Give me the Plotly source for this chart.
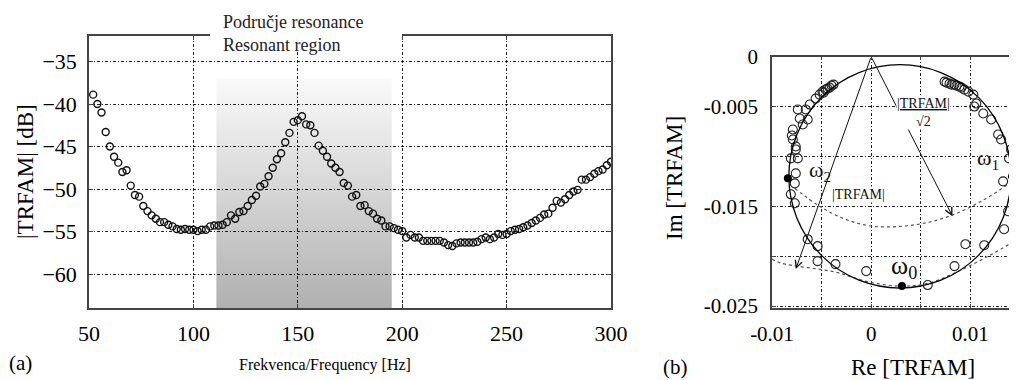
import plotly.graph_objects as go

# ---------------- data: left panel (|TRFAM| in dB vs frequency) ----------------
freq_hz = list(range(52, 301, 2))
trfam_db = [
    -38.9, -40.0, -41.0, -43.3, -45.0, -46.2, -46.9, -48.0, -47.8, -49.6,
    -50.7, -50.9, -52.0, -52.6, -53.1, -53.5, -53.9, -53.9, -54.2, -54.4,
    -54.7, -54.8, -54.7, -54.8, -54.8, -54.95, -54.8, -54.8, -54.4, -54.3,
    -54.3, -54.2, -53.9, -53.1, -53.5, -52.7, -52.6, -52.0, -51.3, -50.8,
    -49.7, -49.4, -48.5, -47.5, -46.5, -45.8, -44.5, -43.4, -42.1, -41.9,
    -41.45, -42.4, -42.5, -43.4, -44.9, -45.5, -46.2, -47.0, -47.5, -48.0,
    -49.3, -49.6, -50.9, -50.7, -52.0, -51.9, -52.6, -52.9, -53.5, -53.7,
    -54.4, -54.4, -54.6, -54.8, -54.95, -55.7, -55.4, -55.7, -55.7, -56.1,
    -56.1, -56.1, -56.1, -56.1, -56.3, -56.6, -56.7, -56.4, -56.3, -56.3,
    -56.3, -56.3, -56.2, -55.9, -55.7, -55.9, -55.7, -55.3, -55.4, -55.3,
    -54.95, -54.8, -54.7, -54.5, -54.3, -54.0, -53.7, -53.4, -53.0, -52.9,
    -52.2, -51.4, -51.6, -51.2, -50.7, -50.3, -50.1, -48.9, -48.9, -48.6,
    -48.2, -47.9, -47.7, -47.2, -46.8,
]
resonance_band_hz = [111, 195]
resonance_band_db = [-64, -37]
x_ticks_a = [50, 100, 150, 200, 250, 300]
y_ticks_a = [-35, -40, -45, -50, -55, -60]

# ---------------- data: right panel (Nyquist plot) ----------------
re_meas = [
    -0.0038, -0.0040, -0.0042, -0.0044, -0.0046, -0.0048, -0.0049, -0.0052,
    -0.0056, -0.0062, -0.0066, -0.0074, -0.0072, -0.0064, -0.0069, -0.0079,
    -0.0080, -0.0079, -0.0076, -0.0076, -0.0081, -0.0074, -0.0076, -0.0077,
    -0.0081, -0.0077, -0.0064, -0.0054, -0.0054, -0.0036, -0.0005, 0.0057,
    0.0084, 0.0095, 0.0114, 0.0134, 0.0138, 0.0133, 0.0139, 0.0141, 0.0131,
    0.0128, 0.0121, 0.0113, 0.0104, 0.0106, 0.0103, 0.0098, 0.0094, 0.0091,
    0.0089, 0.0086, 0.0084, 0.0081, 0.0079, 0.0076, 0.0074, 0.0150,
]
im_meas = [
    -0.0028, -0.0029, -0.0031, -0.0032, -0.0033, -0.0036, -0.0035, -0.0038,
    -0.0042, -0.0048, -0.0053, -0.0053, -0.0062, -0.0063, -0.0068, -0.0073,
    -0.0079, -0.0083, -0.0090, -0.0093, -0.0102, -0.0102, -0.0117, -0.0127,
    -0.0138, -0.0147, -0.0183, -0.0190, -0.0205, -0.0208, -0.0215, -0.0229,
    -0.0210, -0.0188, -0.0189, -0.0173, -0.0155, -0.0125, -0.0102, -0.0093,
    -0.0083, -0.0078, -0.0063, -0.0057, -0.0050, -0.0047, -0.0038, -0.0035,
    -0.0033, -0.0031, -0.0030, -0.0029, -0.0028, -0.0028, -0.0027, -0.0026,
    -0.0025, -0.0123,
]
omega_re = [-0.0084, 0.0142, 0.0031]
omega_im = [-0.0122, -0.0120, -0.0230]
omega_labels = ["ω<sub>2</sub>", "ω<sub>1</sub>", "ω<sub>0</sub>"]
circle_center = [0.0029, -0.0120]
circle_radius = 0.0112
half_power_arc_re = [-0.0077, -0.0052, -0.0026, 0.0001, 0.0031, 0.0058, 0.0084, 0.0111, 0.0138, 0.0150]
half_power_arc_im = [-0.0132, -0.0150, -0.0163, -0.0170, -0.0170, -0.0166, -0.0158, -0.0145, -0.0128, -0.0119]
full_arc_re = [-0.0100, -0.0091, -0.0036, -0.0002, 0.0031, 0.0058, 0.0084, 0.0118, 0.0148]
full_arc_im = [-0.0203, -0.0207, -0.0216, -0.0226, -0.0230, -0.0227, -0.0217, -0.0200, -0.0183]
arrow_origin = [0.0, 0.0]
arrow_full_tip = [-0.0076, -0.0213]
arrow_half_tip = [0.0082, -0.0160]
x_ticks_b = [-0.01, -0.005, 0, 0.005, 0.01]
x_ticklabels_b = ["-0.01", "", "0", "", "0.01"]
y_ticks_b = [0, -0.005, -0.01, -0.015, -0.02, -0.025]
y_ticklabels_b = ["0", "-0.005", "", "-0.015", "", "-0.025"]

# ---------------- layout helpers ----------------
# the page body has an 8px margin, so the figure is made 8px smaller and
# every paper position is given in window pixels and converted here
OFF = 8
W, H = 1017 - OFF, 380 - OFF
FONT = "Liberation Serif, Times New Roman, serif"


def px(xp):
    return (xp - OFF) / W


def py(yp):
    return 1 - (yp - OFF) / H


fig = go.Figure()

# resonance shading (gradient)
fig.add_trace(go.Scatter(
    x=[resonance_band_hz[0], resonance_band_hz[1], resonance_band_hz[1], resonance_band_hz[0], resonance_band_hz[0]],
    y=[resonance_band_db[0], resonance_band_db[0], resonance_band_db[1], resonance_band_db[1], resonance_band_db[0]],
    fill="toself", mode="lines", line=dict(width=0),
    fillgradient=dict(type="vertical",
                      colorscale=[[0, "rgba(0,0,0,0.31)"], [1, "rgba(0,0,0,0.02)"]]),
    hoverinfo="skip", showlegend=False, xaxis="x", yaxis="y",
))

fig.add_trace(go.Scatter(
    x=freq_hz, y=trfam_db, mode="markers",
    marker=dict(symbol="circle-open", size=7, color="#111", line=dict(width=1.4)),
    showlegend=False, xaxis="x", yaxis="y",
))

# right panel: dotted arcs
fig.add_trace(go.Scatter(
    x=half_power_arc_re, y=half_power_arc_im, mode="lines",
    line=dict(color="#555", width=1.2, dash="dot", shape="spline"),
    showlegend=False, xaxis="x2", yaxis="y2",
))
fig.add_trace(go.Scatter(
    x=full_arc_re, y=full_arc_im, mode="lines",
    line=dict(color="#555", width=1.2, dash="dot", shape="spline"),
    showlegend=False, xaxis="x2", yaxis="y2",
))
fig.add_trace(go.Scatter(
    x=re_meas, y=im_meas, mode="markers",
    marker=dict(symbol="circle-open", size=9, color="#222", line=dict(width=1.1)),
    showlegend=False, xaxis="x2", yaxis="y2",
))
fig.add_trace(go.Scatter(
    x=omega_re, y=omega_im, mode="markers",
    marker=dict(symbol="circle", size=8, color="black"),
    showlegend=False, xaxis="x2", yaxis="y2",
))

# fitted circle
fig.add_shape(type="circle", xref="x2", yref="y2",
              x0=circle_center[0] - circle_radius, x1=circle_center[0] + circle_radius,
              y0=circle_center[1] - circle_radius, y1=circle_center[1] + circle_radius,
              line=dict(color="black", width=1.3), layer="above")

# white patch hiding the top frame behind the resonance label
fig.add_shape(type="rect", xref="paper", yref="paper",
              x0=px(210), x1=px(402), y0=py(50), y1=py(OFF),
              fillcolor="white", line=dict(width=0), layer="above")

grid_dash = "3px,2px,1px,2px"
axis_common = dict(showline=True, linecolor="#444", linewidth=1.5, mirror="ticks",
                   ticks="inside", ticklen=4, tickcolor="#444",
                   showgrid=True, gridcolor="#222", gridwidth=1, griddash=grid_dash,
                   zeroline=False, automargin=False,
                   tickfont=dict(family=FONT, size=22, color="black"))

fig.update_layout(
    width=W, height=H, margin=dict(l=0, r=0, t=0, b=0, autoexpand=False),
    paper_bgcolor="white", plot_bgcolor="white",
    xaxis=dict(axis_common, domain=[px(89), px(611)], range=[50, 300],
               tickvals=x_ticks_a, anchor="y", ticklabelstandoff=5),
    yaxis=dict(axis_common, domain=[py(308), py(36)], range=[-64, -32],
               tickvals=y_ticks_a, anchor="x", ticklabelstandoff=6),
    xaxis2=dict(axis_common, domain=[px(772), px(1015)], range=[-0.01, 0.0145],
                tickvals=x_ticks_b, ticktext=x_ticklabels_b, anchor="y2",
                ticklabelstandoff=6,
                tickfont=dict(family=FONT, size=21, color="black")),
    yaxis2=dict(axis_common, domain=[py(308), py(56.7)], range=[-0.0252, 0],
                tickvals=y_ticks_b, ticktext=y_ticklabels_b, anchor="x2",
                ticklabelstandoff=8,
                tickfont=dict(family=FONT, size=21, color="black")),
    font=dict(family=FONT, color="black"),
)


def paper_text(text, x, y, size, angle=0, xanchor="center", color="black"):
    return dict(text=text, x=px(x), y=py(y), xref="paper", yref="paper",
                xanchor=xanchor, yanchor="middle", textangle=angle,
                showarrow=False, font=dict(size=size, color=color))


ann = [
    paper_text("Područje resonance", 221, 22, 18, xanchor="left", color="#222"),
    paper_text("Resonant region", 221, 45, 18, xanchor="left", color="#222"),
    paper_text("|TRFAM| [dB]", 25, 172, 23, angle=-90),
    paper_text("Frekvenca/Frequency [Hz]", 325, 365, 16),
    paper_text("(a)", 20, 363, 21),
    paper_text("Im [TRFAM]", 674, 178, 23, angle=-90),
    paper_text("Re [TRFAM]", 913, 367, 23),
    paper_text("(b)", 675, 367, 21),
]
# arrows
for tip in (arrow_full_tip, arrow_half_tip):
    ann.append(dict(x=tip[0], y=tip[1], ax=arrow_origin[0], ay=arrow_origin[1],
                    xref="x2", yref="y2", axref="x2", ayref="y2", text="",
                    showarrow=True, arrowhead=5, arrowsize=1.4, arrowwidth=1, arrowcolor="#111"))
# omega labels
omega_offsets = [(-0.0052, -0.0115, 22), (0.0118, -0.0103, 22), (0.0033, -0.0211, 26)]
for lab, (lx, ly, fs) in zip(omega_labels, omega_offsets):
    ann.append(dict(text=lab, x=lx, y=ly, xref="x2", yref="y2", showarrow=False,
                    xanchor="center", yanchor="middle", font=dict(size=fs, color="#111")))
ann.append(dict(text="|TRFAM|", x=-0.00125, y=-0.0138, xref="x2", yref="y2", showarrow=False,
                xanchor="center", yanchor="middle",
                bgcolor="white", borderpad=0, font=dict(size=14, color="#111")))
ann.append(dict(text="<span style='text-decoration:underline'>|TRFAM|</span><br>√2",
                x=0.0053, y=-0.0056, xref="x2", yref="y2", showarrow=False,
                xanchor="center", yanchor="middle",
                bgcolor="white", borderpad=0, font=dict(size=14, color="#111")))

fig.update_layout(annotations=ann)
fig.write_html("out.html")
